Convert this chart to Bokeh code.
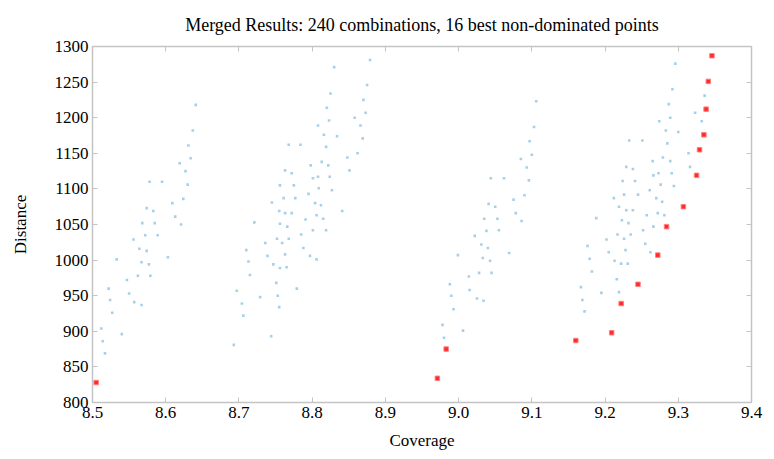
from bokeh.plotting import figure
from bokeh.models import LinearAxis, FixedTicker, Range1d, ColumnDataSource, CustomLabelingPolicy
from bokeh.embed import file_html
from bokeh.resources import INLINE

# ---- data ----
title_text = "Merged Results: 240 combinations, 16 best non-dominated points"
x_ticks = [8.5, 8.6, 8.7, 8.8, 8.9, 9.0, 9.1, 9.2, 9.3, 9.4]
y_ticks = [800, 850, 900, 950, 1000, 1050, 1100, 1150, 1200, 1250, 1300]

cluster_a_x = [8.641, 8.637, 8.631, 8.634, 8.619, 8.627, 8.578, 8.595, 8.630, 8.624, 8.609, 8.574, 8.583,
               8.613, 8.568, 8.585, 8.621, 8.556, 8.572, 8.589, 8.564, 8.574, 8.603, 8.533, 8.567, 8.577,
               8.562, 8.579, 8.547, 8.522, 8.550, 8.524, 8.557, 8.567, 8.527, 8.512, 8.540, 8.514, 8.517]
cluster_a_y = [1218, 1182, 1161, 1143, 1136, 1125, 1110, 1110, 1106, 1086, 1080, 1073, 1069,
               1061, 1052, 1052, 1050, 1029, 1035, 1035, 1016, 1013, 1004, 1001, 997, 994,
               978, 978, 972, 960, 953, 944, 941, 937, 926, 904, 896, 886, 869]

cluster_b_x = [8.697, 8.704, 8.706, 8.693, 8.710, 8.713, 8.715, 8.721, 8.736, 8.739, 8.747, 8.729, 8.744,
               8.751, 8.753, 8.755, 8.756, 8.752, 8.768, 8.759, 8.785, 8.788, 8.763, 8.797, 8.806, 8.765,
               8.779, 8.745, 8.755, 8.756, 8.756, 8.879, 8.830, 8.875, 8.825, 8.870, 8.820, 8.873, 8.858,
               8.823, 8.808, 8.866, 8.816, 8.834, 8.869, 8.768, 8.784, 8.819, 8.862, 8.848, 8.813, 8.798,
               8.822, 8.763, 8.851, 8.772, 8.801, 8.808, 8.824, 8.775, 8.809, 8.827, 8.795, 8.761, 8.777,
               8.804, 8.812, 8.763, 8.772, 8.841, 8.806, 8.791, 8.815, 8.766, 8.801, 8.819, 8.754]
cluster_b_y = [957, 939, 922, 881, 1014, 998, 979, 1053, 1024, 1006, 994, 948, 893,
               968, 950, 934, 989, 1030, 1030, 1024, 1036, 1017, 1008, 1006, 1001, 990,
               960, 1081, 1069, 1105, 1051, 1281, 1271, 1246, 1234, 1225, 1214, 1207, 1200,
               1196, 1189, 1189, 1176, 1174, 1171, 1162, 1162, 1159, 1150, 1144, 1138, 1133,
               1133, 1126, 1126, 1122, 1115, 1117, 1117, 1105, 1101, 1098, 1093, 1087, 1087,
               1080, 1077, 1066, 1066, 1069, 1063, 1057, 1058, 1047, 1042, 1042, 1302]

cluster_c_x = [9.106, 9.103, 9.097, 9.100, 9.085, 9.093, 9.044, 9.062, 9.096, 9.090, 9.075, 9.041, 9.050,
               9.078, 9.035, 9.053, 9.086, 9.038, 9.055, 9.022, 9.031, 9.040, 9.069, 8.999, 9.033, 9.043,
               9.028, 9.045, 9.014, 8.988, 9.015, 8.990, 9.025, 9.034, 8.993, 8.978, 9.006, 8.980, 9.132]
cluster_c_y = [1223, 1187, 1167, 1148, 1142, 1130, 1115, 1115, 1112, 1091, 1085, 1079, 1075,
               1066, 1058, 1058, 1055, 1041, 1042, 1034, 1022, 1017, 1010, 1007, 1003, 999,
               982, 982, 977, 966, 958, 950, 946, 943, 931, 909, 901, 891, 1302]

cluster_d_x = [9.296, 9.292, 9.336, 9.287, 9.323, 9.289, 9.274, 9.332, 9.283, 9.300, 9.233, 9.251, 9.285,
               9.314, 9.279, 9.265, 9.289, 9.229, 9.238, 9.316, 9.266, 9.273, 9.291, 9.224, 9.241, 9.276,
               9.294, 9.261, 9.226, 9.245, 9.212, 9.270, 9.278, 9.219, 9.229, 9.238, 9.257, 9.272, 9.281,
               9.188, 9.223, 9.232, 9.252, 9.266, 9.217, 9.235, 9.226, 9.202, 9.176, 9.255, 9.205, 9.228,
               9.262, 9.179, 9.213, 9.222, 9.231, 9.182, 9.216, 9.167, 9.195, 9.219, 9.169, 9.172]
cluster_d_y = [1276, 1240, 1231, 1219, 1207, 1200, 1195, 1195, 1182, 1180, 1168, 1168, 1164,
               1150, 1144, 1139, 1139, 1131, 1128, 1131, 1119, 1122, 1122, 1111, 1111, 1106,
               1104, 1098, 1092, 1092, 1087, 1087, 1082, 1075, 1070, 1070, 1063, 1066, 1063,
               1059, 1056, 1052, 1042, 1047, 1036, 1036, 1030, 1029, 1020, 1023, 1011, 1014,
               1011, 1002, 999, 995, 995, 984, 973, 962, 954, 955, 944, 928]

best_x = [8.505, 8.971, 8.983, 9.160, 9.209, 9.222, 9.245, 9.272, 9.284, 9.307, 9.325, 9.329, 9.335, 9.338, 9.341, 9.346]
best_y = [828, 834, 875, 887, 898, 939, 966, 1007, 1047, 1075, 1119, 1155, 1176, 1212, 1251, 1287]

all_x = cluster_a_x + cluster_b_x + cluster_c_x + cluster_d_x
all_y = cluster_a_y + cluster_b_y + cluster_c_y + cluster_d_y

FONT = "Liberation Serif"
GRAY = "#c4c4c4"

p = figure(width=774, height=459, output_backend="svg", toolbar_location=None,
           x_range=Range1d(8.5, 9.4), y_range=Range1d(800, 1300),
           min_border_left=92, min_border_right=23, min_border_top=45, min_border_bottom=57,
           title=title_text)
p.title.text_font = FONT
p.title.text_font_size = "18px"
p.title.text_font_style = "normal"
p.title.align = "center"
p.title.text_color = "#000000"
p.title.standoff = 24

p.grid.visible = False
p.outline_line_color = GRAY
p.outline_line_width = 1.5
p.background_fill_color = "white"
p.border_fill_color = "white"

xt = FixedTicker(ticks=x_ticks)
yt = FixedTicker(ticks=y_ticks)
for ax, tk in ((p.xaxis[0], xt), (p.yaxis[0], yt)):
    ax.ticker = tk
    ax.major_tick_in = 5
    ax.major_tick_out = 0
    ax.minor_tick_line_color = None
    ax.axis_line_color = GRAY
    ax.major_tick_line_color = GRAY
    ax.major_label_text_font = FONT
    ax.major_label_text_font_size = "17px"
    ax.major_label_text_color = "#000000"
    ax.axis_label_text_font = FONT
    ax.axis_label_text_font_size = "17px"
    ax.axis_label_text_font_style = "normal"
    ax.axis_label_text_color = "#000000"
    ax.major_label_standoff = 4
p.xaxis[0].major_label_overrides = {t: f"{t:.1f}" for t in x_ticks}
p.xaxis.axis_label = "Coverage"
p.yaxis.axis_label = "Distance"
p.xaxis.axis_label_standoff = 10
p.yaxis.axis_label_standoff = 22

top_ax = LinearAxis(ticker=FixedTicker(ticks=x_ticks),
                    major_label_policy=CustomLabelingPolicy(code="return new Set()"),
                    major_label_text_font_size="0px",
                    major_tick_in=5, major_tick_out=0, minor_tick_line_color=None,
                    axis_line_color=GRAY, major_tick_line_color=GRAY, major_label_standoff=0)
right_ax = LinearAxis(ticker=FixedTicker(ticks=y_ticks),
                      major_label_policy=CustomLabelingPolicy(code="return new Set()"),
                      major_label_text_font_size="0px",
                      major_tick_in=5, major_tick_out=0, minor_tick_line_color=None,
                      axis_line_color=GRAY, major_tick_line_color=GRAY, major_label_standoff=0)
p.add_layout(top_ax, "above")
p.add_layout(right_ax, "right")

src_all = ColumnDataSource(dict(x=all_x, y=all_y))
src_best = ColumnDataSource(dict(x=best_x, y=best_y))
p.scatter("x", "y", source=src_all, marker="square", size=2.6, fill_color="#9ccbe8",
          line_color=None, alpha=0.9)
p.scatter("x", "y", source=src_best, marker="square", size=4.5, fill_color="#ff2a2a",
          line_color="#ff8080", line_width=1)

open("out.html", "w").write(file_html(p, INLINE))
